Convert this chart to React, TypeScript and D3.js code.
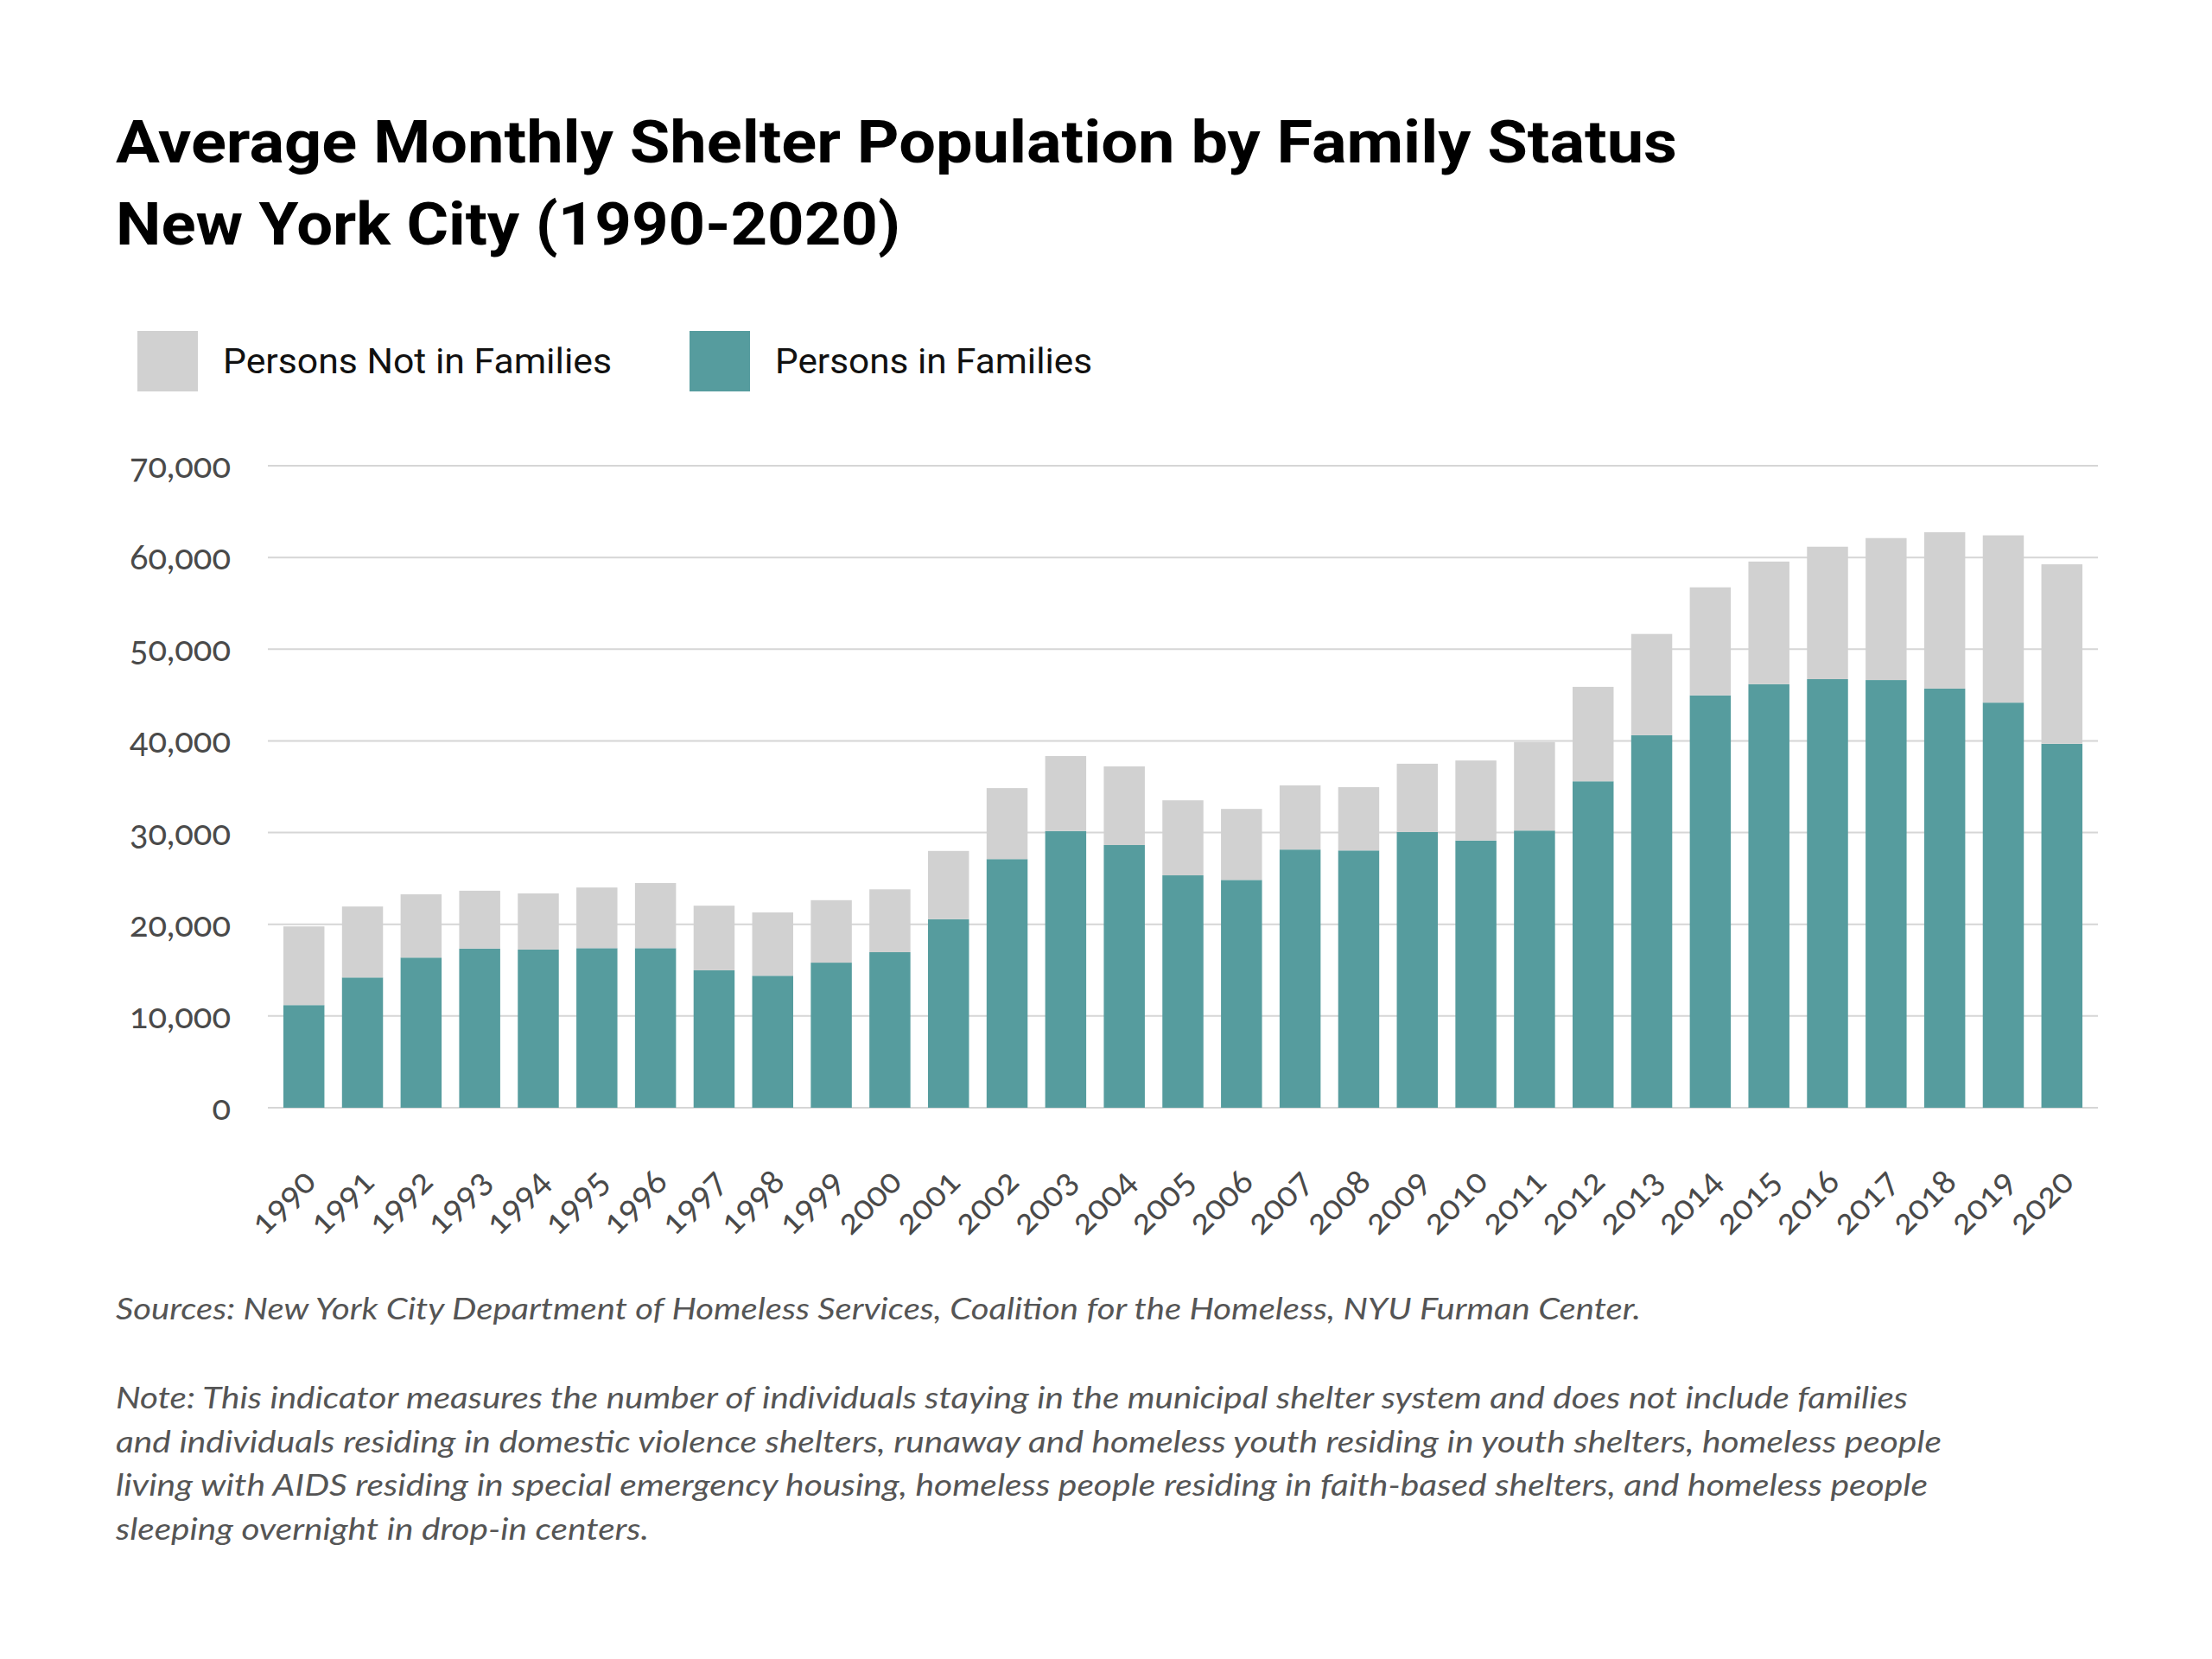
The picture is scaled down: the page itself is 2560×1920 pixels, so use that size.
import React, { useEffect, useRef } from 'react';
import * as d3 from 'd3';

const years = [
  '1990', '1991', '1992', '1993', '1994', '1995', '1996', '1997', '1998', '1999', '2000',
  '2001', '2002', '2003', '2004', '2005', '2006', '2007', '2008', '2009', '2010',
  '2011', '2012', '2013', '2014', '2015', '2016', '2017', '2018', '2019', '2020'
];
const inFamilies = [
  11190, 14200, 16370, 17350, 17250, 17400, 17400, 14990, 14390, 15820, 16960,
  20560, 27110, 30170, 28640, 25340, 24840, 28150, 28050, 30070, 29130,
  30220, 35590, 40620, 44960, 46190, 46730, 46630, 45700, 44170, 39680
];
const notInFamilies = [
  8580, 7740, 6900, 6310, 6120, 6610, 7100, 7040, 6910, 6810, 6850,
  7440, 7740, 8180, 8580, 8180, 7740, 7000, 6900, 7440, 8730,
  9660, 10300, 11040, 11780, 13360, 14440, 15480, 17050, 18240, 19570
];
const yTicks = [0, 10000, 20000, 30000, 40000, 50000, 60000, 70000];

const titleLines = ['Average Monthly Shelter Population by Family Status', 'New York City (1990-2020)'];
const legendItems = [
  { key: 'notInFamilies', label: 'Persons Not in Families' },
  { key: 'inFamilies', label: 'Persons in Families' }
];
const sourceText = 'Sources: New York City Department of Homeless Services, Coalition for the Homeless, NYU Furman Center.';
const noteLines = [
  'Note: This indicator measures the number of individuals staying in the municipal shelter system and does not include families',
  'and individuals residing in domestic violence shelters, runaway and homeless youth residing in youth shelters, homeless people',
  'living with AIDS residing in special emergency housing, homeless people residing in faith-based shelters, and homeless people',
  'sleeping overnight in drop-in centers.'
];

const colors: Record<string, string> = { inFamilies: '#569c9e', notInFamilies: '#d1d1d1' };

const App = () => {
  const width = 2560;
  const height = 1920;
  const margin = { top: 539, right: 132, bottom: 638, left: 310 };
  const svgRef = useRef<SVGSVGElement | null>(null);

  useEffect(() => {
    const svg = d3.select(svgRef.current);
    svg.selectAll('*').remove();
    svg.attr('width', width).attr('height', height);

    svg.append('rect').attr('width', width).attr('height', height).attr('fill', '#fff');

    // Title
    const titleWidths = [1807, 908];
    svg.append('g')
      .selectAll('text')
      .data(titleLines)
      .enter()
      .append('text')
      .attr('x', 134)
      .attr('y', (_, i) => 188 + i * 95)
      .attr('textLength', (_, i) => titleWidths[i])
      .attr('lengthAdjust', 'spacingAndGlyphs')
      .style('font-family', 'Roboto, "Open Sans", sans-serif')
      .style('font-weight', 700)
      .style('font-size', '68px')
      .style('fill', '#000')
      .text((d) => d);

    // Legend
    const legendX = [159, 798];
    const legendW = [450, 367];
    const legend = svg.append('g');
    legendItems.forEach((item, i) => {
      legend.append('rect')
        .attr('x', legendX[i]).attr('y', 383)
        .attr('width', 70).attr('height', 70)
        .attr('fill', colors[item.key]);
      legend.append('text')
        .attr('x', legendX[i] + 99).attr('y', 432)
        .attr('textLength', legendW[i])
        .attr('lengthAdjust', 'spacingAndGlyphs')
        .style('font-family', 'Roboto, "Open Sans", sans-serif')
        .style('font-size', '40px')
        .style('fill', '#111')
        .text(item.label);
    });

    const innerWidth = width - margin.left - margin.right;
    const innerHeight = height - margin.top - margin.bottom;

    const x = d3.scaleBand<string>()
      .domain(years)
      .range([margin.left, margin.left + innerWidth])
      .paddingInner(0.3)
      .paddingOuter(0.265);

    const y = d3.scaleLinear()
      .domain([0, 70000])
      .range([margin.top + innerHeight, margin.top]);

    // Gridlines
    svg.append('g')
      .selectAll('line')
      .data(yTicks)
      .enter()
      .append('line')
      .attr('x1', margin.left)
      .attr('x2', margin.left + innerWidth)
      .attr('y1', (d) => y(d))
      .attr('y2', (d) => y(d))
      .attr('stroke', '#d6d6d6')
      .attr('stroke-width', 2);

    // Y labels
    svg.append('g')
      .selectAll('text')
      .data(yTicks)
      .enter()
      .append('text')
      .attr('x', 267)
      .attr('y', (d) => y(d))
      .attr('dy', '0.35em')
      .attr('text-anchor', 'end')
      .style('font-family', 'Lato, "Open Sans", sans-serif')
      .style('font-variant-numeric', 'oldstyle-nums')
      .style('font-size', '40px')
      .style('fill', '#4a4a4a')
      .text((d) => d3.format(',')(d));

    // Stacked bars
    const rows = years.map((yr, i) => ({ year: yr, inFamilies: inFamilies[i], notInFamilies: notInFamilies[i] }));
    const stack = d3.stack<any>().keys(['inFamilies', 'notInFamilies']);
    const series = stack(rows);

    svg.append('g')
      .selectAll('g')
      .data(series)
      .enter()
      .append('g')
      .attr('fill', (s) => colors[s.key])
      .selectAll('rect')
      .data((s) => s)
      .enter()
      .append('rect')
      .attr('x', (d: any) => x(d.data.year) as number)
      .attr('width', x.bandwidth())
      .attr('y', (d) => y(d[1]))
      .attr('height', (d) => y(d[0]) - y(d[1]));

    // X labels
    svg.append('g')
      .selectAll('text')
      .data(years)
      .enter()
      .append('text')
      .attr('transform', (d) => `translate(${(x(d) as number) + x.bandwidth() / 2 + 16}, 1370) rotate(-45)`)
      .attr('text-anchor', 'end')
      .style('font-family', 'Lato, "Open Sans", sans-serif')
      .style('font-variant-numeric', 'oldstyle-nums')
      .style('font-size', '40px')
      .style('fill', '#4a4a4a')
      .text((d) => d);

    // Footnotes
    const foot = svg.append('g')
      .style('font-family', 'Lato, "Open Sans", sans-serif')
      .style('font-style', 'italic')
      .style('font-size', '35px')
      .style('fill', '#555');

    foot.append('text')
      .attr('x', 134).attr('y', 1527)
      .attr('textLength', 1765)
      .attr('lengthAdjust', 'spacingAndGlyphs')
      .text(sourceText);

    const noteWidths = [2074, 2113, 2097, 617];
    foot.selectAll('text.note')
      .data(noteLines)
      .enter()
      .append('text')
      .attr('class', 'note')
      .attr('x', 134)
      .attr('y', (_, i) => 1630 + i * 50.7)
      .attr('textLength', (_, i) => noteWidths[i])
      .attr('lengthAdjust', 'spacingAndGlyphs')
      .text((d) => d);
  }, []);

  return <svg ref={svgRef} style={{ position: 'absolute', left: 0, top: 0 }}></svg>;
};

export default App;
